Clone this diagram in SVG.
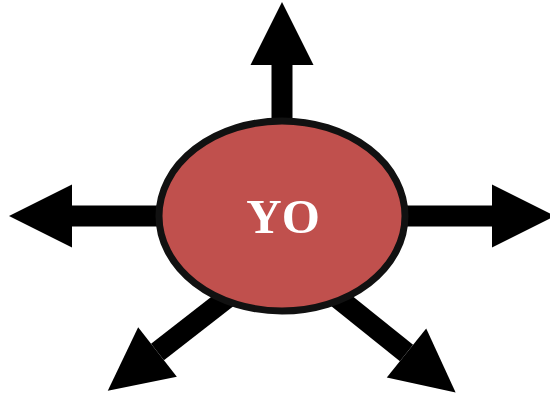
<svg xmlns="http://www.w3.org/2000/svg" width="550" height="393" viewBox="0 0 550 393">
<style>
.conn{stroke:#000;stroke-width:21;fill:none;marker-end:url(#head)}
.node{fill:#C0504D;stroke:#111;stroke-width:7}
.lbl{font-family:"Liberation Serif","Times New Roman",serif;font-weight:bold;font-size:49px;fill:#fff;text-anchor:middle}
</style>
<defs>
<marker id="head" viewBox="0 0 3 3" refX="0" refY="1.5" markerWidth="3" markerHeight="3" orient="auto" markerUnits="strokeWidth" overflow="visible">
<path d="M0,0 L3,1.5 L0,3 Z" fill="#000"/>
</marker>
</defs>
<rect width="550" height="393" fill="#fff"/>
<g id="connectors">
<line class="conn" x1="282" y1="124" x2="282" y2="65"/>
<line class="conn" x1="162" y1="216" x2="72" y2="216"/>
<line class="conn" x1="402" y1="216" x2="492" y2="216"/>
<line class="conn" x1="232" y1="294" x2="157.5" y2="352"/>
<line class="conn" x1="333" y1="294" x2="406.5" y2="353"/>
</g>
<g id="yo">
<ellipse class="node" cx="282" cy="216" rx="123" ry="95"/>
<text class="lbl" x="283" y="233">YO</text>
</g>
</svg>
